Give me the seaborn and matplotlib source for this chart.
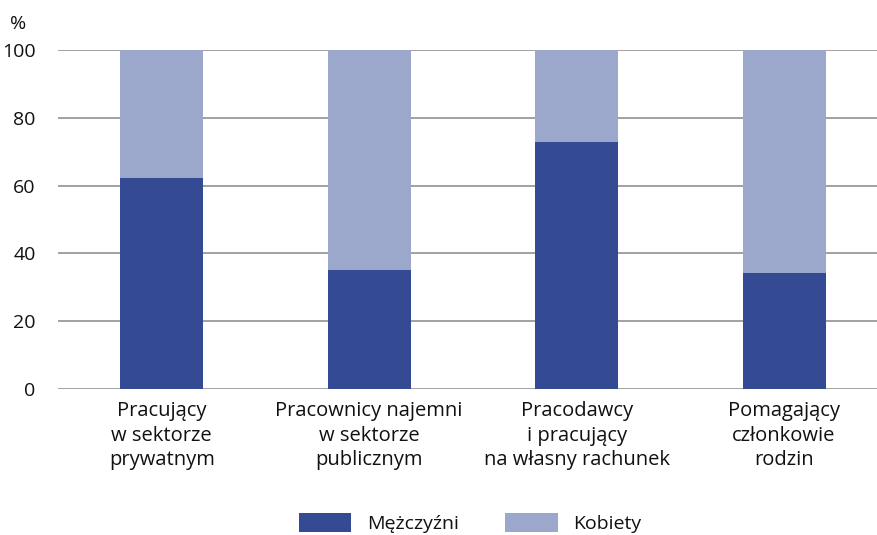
import matplotlib
matplotlib.use("Agg")
import matplotlib.pyplot as plt
import seaborn as sns
import pandas as pd
from matplotlib.patches import Patch

sns.set_style("white")
plt.rcParams["font.family"] = ["Open Sans", "DejaVu Sans"]

categories = [
    "Pracujący\nw sektorze\nprywatnym",
    "Pracownicy najemni\nw sektorze\npublicznym",
    "Pracodawcy\ni pracujący\nna własny rachunek",
    "Pomagający\nczłonkowie\nrodzin",
]
men = [62.3, 35.2, 72.9, 34.1]
women = [100 - m for m in men]
series_names = ["Mężczyźni", "Kobiety"]
colors = ["#344a93", "#9ba8cb"]

df = pd.DataFrame({"cat": categories, "men": men, "total": [m + w for m, w in zip(men, women)]})

fig = plt.figure(figsize=(8.77, 5.35), dpi=100)
ax = fig.add_axes([0.0661, 0.2729, 0.9339, 0.6336])

# total first (women on top), then men over it
sns.barplot(data=df, x="cat", y="total", color=colors[1], width=0.4, saturation=1,
            linewidth=0, ax=ax, zorder=2)
sns.barplot(data=df, x="cat", y="men", color=colors[0], width=0.4, saturation=1,
            linewidth=0, ax=ax, zorder=3)

ax.set_ylim(0, 100)
ax.set_xlim(-0.5, 3.448)
ax.set_yticks(range(0, 101, 20))
ax.yaxis.grid(True, color="#9a9a9a", linewidth=1.3)
ax.set_axisbelow(True)
for s in ax.spines.values():
    s.set_visible(False)
ax.tick_params(axis="y", length=0, labelsize=14, pad=16, labelcolor="#111111")
ax.tick_params(axis="x", length=0, labelsize=14.5, pad=9, labelcolor="#111111")
for lbl in ax.get_xticklabels():
    lbl.set_linespacing(1.3)
ax.set_xlabel("")
ax.set_ylabel("")
fig.text(0.0205, 0.955, "%", fontsize=14, ha="center", va="center", color="#111111")

handles = [Patch(facecolor=c, edgecolor="none") for c in colors]
fig.legend(handles, series_names, loc="center", bbox_to_anchor=(0.536, 0.022),
           ncol=2, frameon=False, fontsize=14, handlelength=2.7, handleheight=1.15,
           columnspacing=2.4, handletextpad=0.8, borderpad=0, labelcolor="#111111")

fig.savefig("out.png", dpi=100)
